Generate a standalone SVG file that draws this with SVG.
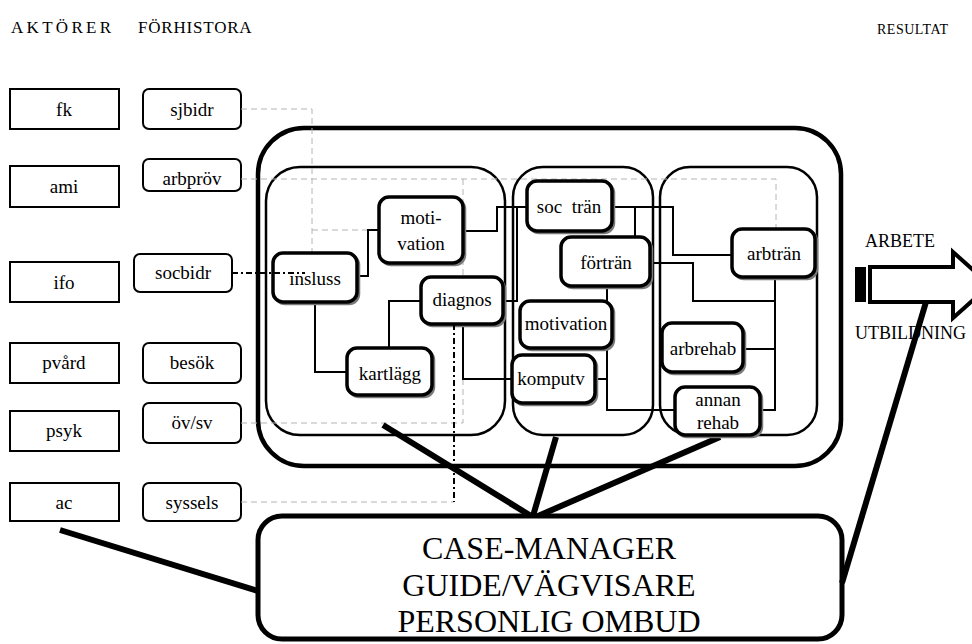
<svg xmlns="http://www.w3.org/2000/svg" width="972" height="644" viewBox="0 0 972 644">
  <style>
    text { font-family: "Liberation Serif", "Times New Roman", serif; fill: #000; }
    .hdr { font-size: 17px; }
    .lbl { font-size: 19px; text-anchor: middle; }
    .big { font-size: 32px; text-anchor: middle; }
    .actor { fill: #fff; stroke: #000; stroke-width: 2; }
    .hist { fill: #fff; stroke: #000; stroke-width: 2; }
    .frame { fill: none; stroke: #000; stroke-width: 2.5; }
    .outer { fill: none; stroke: #000; stroke-width: 4.5; }
    .shadow { fill: #fff; stroke: #7a7a7a; stroke-width: 2.5; }
    .box { fill: #fff; stroke: #000; stroke-width: 3.5; }
    .link { fill: none; stroke: #000; stroke-width: 2; }
    .dash { fill: none; stroke: #b4b4b4; stroke-width: 1; stroke-dasharray: 6 4; }
    .dashdot { fill: none; stroke: #000; stroke-width: 2; stroke-dasharray: 6 3 2 3; }
    .thick { fill: none; stroke: #000; stroke-width: 6; stroke-linecap: butt; }
  </style>

  <!-- column headers -->
  <text class="hdr" x="11" y="33" letter-spacing="3.3">AKTÖRER</text>
  <text class="hdr" x="138" y="33" letter-spacing="0.8">FÖRHISTORA</text>
  <text x="877" y="34" font-size="14" letter-spacing="0.5">RESULTAT</text>

  <!-- actors -->
  <g id="actor-fk"><rect class="actor" x="10" y="89" width="109" height="40"/><text class="lbl" x="64" y="116">fk</text></g>
  <g id="actor-ami"><rect class="actor" x="10" y="166" width="109" height="41"/><text class="lbl" x="64" y="193">ami</text></g>
  <g id="actor-ifo"><rect class="actor" x="10" y="262" width="109" height="40"/><text class="lbl" x="64" y="289">ifo</text></g>
  <g id="actor-pvard"><rect class="actor" x="10" y="343" width="109" height="40"/><text class="lbl" x="64" y="369">pvård</text></g>
  <g id="actor-psyk"><rect class="actor" x="10" y="411" width="109" height="40"/><text class="lbl" x="64" y="437">psyk</text></g>
  <g id="actor-ac"><rect class="actor" x="10" y="483" width="109" height="38"/><text class="lbl" x="64" y="509">ac</text></g>

  <!-- history -->
  <g id="hist-sjbidr"><rect class="hist" x="143" y="89" width="98" height="40" rx="6"/><text class="lbl" x="192" y="116">sjbidr</text></g>
  <g id="hist-arbprov"><rect class="hist" x="143" y="159" width="98" height="32" rx="6"/><text class="lbl" x="192" y="185">arbpröv</text></g>
  <g id="hist-socbidr"><rect class="hist" x="134" y="254" width="98" height="38" rx="6"/><text class="lbl" x="183" y="279">socbidr</text></g>
  <g id="hist-besok"><rect class="hist" x="143" y="343" width="98" height="40" rx="6"/><text class="lbl" x="192" y="369">besök</text></g>
  <g id="hist-ovsv"><rect class="hist" x="143" y="403" width="98" height="40" rx="6"/><text class="lbl" x="192" y="429">öv/sv</text></g>
  <g id="hist-syssels"><rect class="hist" x="143" y="483" width="98" height="38" rx="6"/><text class="lbl" x="192" y="509">syssels</text></g>

  <!-- enclosing frames -->
  <g id="program">
    <rect class="outer" x="258" y="128" width="583" height="338" rx="46"/>
    <rect class="frame" x="266" y="167" width="239" height="268" rx="34"/>
    <rect class="frame" x="513" y="167" width="140" height="268" rx="30"/>
    <rect class="frame" x="660" y="167" width="157" height="268" rx="30"/>
  </g>

  <!-- connectors -->
  <g id="connectors">
    <!-- history lines -->
    <path class="dash" d="M241 109 H312 V278 M312 230 H368"/>
    <path class="dash" d="M241 179 H776 V229 M463 179 V423 H241"/>
    <path class="dash" d="M241 502 H454"/>

    <!-- phase 1 -->
    <path class="link" d="M357 276 H368 V230 H379"/>
    <path class="link" d="M315 302 V372 H347"/>
    <path class="link" d="M389 348 V301 H421"/>
    <path class="link" d="M463 324 V379 H512"/>
    <path class="link" d="M463 231 H497 V207 H527"/>
    <path class="link" d="M503 301 H517 V207"/>

    <!-- phase 2 / 3 -->
    <path class="link" d="M612 207 H673 V255 H732"/>
    <path class="link" d="M635 207 V237"/>
    <path class="link" d="M650 263 H693 V301 H775"/>
    <path class="link" d="M775 277 V410 H760"/>
    <path class="link" d="M743 349 H775"/>
    <path class="link" d="M607 286 V410 H675"/>
    <path class="link" d="M595 379 H607"/>

    <!-- case manager links -->
    <path class="thick" d="M383 425 L531 516"/>
    <path class="thick" d="M556 437 L533 516"/>
    <path class="thick" d="M720 437 L538 516"/>
    <path class="thick" d="M60 530 L258 591"/>
  </g>

  <!-- phase nodes -->
  <g id="insluss"><rect class="shadow" x="275" y="255" width="84" height="49" rx="10"/><rect class="box" x="273" y="253" width="84" height="49" rx="10"/><text class="lbl" x="315" y="285">insluss</text></g>
  <g id="motivation-1"><rect class="shadow" x="381" y="199" width="84" height="66" rx="10"/><rect class="box" x="379" y="197" width="84" height="66" rx="10"/><text class="lbl" x="421" y="224">moti-</text><text class="lbl" x="421" y="250">vation</text></g>
  <g id="diagnos"><rect class="shadow" x="423" y="279" width="82" height="47" rx="10"/><rect class="box" x="421" y="277" width="82" height="47" rx="10"/><text class="lbl" x="462" y="306">diagnos</text></g>
  <g id="kartlagg"><rect class="shadow" x="349" y="350" width="85" height="47" rx="10"/><rect class="box" x="347" y="348" width="85" height="47" rx="10"/><text class="lbl" x="390" y="380">kartlägg</text></g>
  <g id="soc-tran"><rect class="shadow" x="529" y="183" width="85" height="50" rx="10"/><rect class="box" x="527" y="181" width="85" height="50" rx="10"/><text class="lbl" x="569" y="213" xml:space="preserve">soc  trän</text></g>
  <g id="fortran"><rect class="shadow" x="563" y="239" width="89" height="49" rx="10"/><rect class="box" x="561" y="237" width="89" height="49" rx="10"/><text class="lbl" x="606" y="269">förträn</text></g>
  <g id="motivation-2"><rect class="shadow" x="522" y="303" width="92" height="47" rx="10"/><rect class="box" x="520" y="301" width="92" height="47" rx="10"/><text class="lbl" x="566" y="330">motivation</text></g>
  <g id="komputv"><rect class="shadow" x="514" y="357" width="83" height="48" rx="10"/><rect class="box" x="512" y="355" width="83" height="48" rx="10"/><text class="lbl" x="551" y="385">komputv</text></g>
  <g id="arbtran"><rect class="shadow" x="734" y="231" width="83" height="48" rx="10"/><rect class="box" x="732" y="229" width="83" height="48" rx="10"/><text class="lbl" x="774" y="260">arbträn</text></g>
  <g id="arbrehab"><rect class="shadow" x="664" y="325" width="81" height="49" rx="10"/><rect class="box" x="662" y="323" width="81" height="49" rx="10"/><text class="lbl" x="703" y="355">arbrehab</text></g>
  <g id="annan-rehab"><rect class="shadow" x="677" y="389" width="85" height="48" rx="10"/><rect class="box" x="675" y="387" width="85" height="48" rx="10"/><text class="lbl" x="718" y="406">annan</text><text class="lbl" x="718" y="429">rehab</text></g>

  <!-- lines drawn over the intake node -->
  <path class="dashdot" d="M232 273 H305"/>
  <path class="dashdot" d="M454 324 V502"/>

  <!-- case manager -->
  <g id="case-manager">
    <rect x="258" y="516" width="584" height="123" rx="24" fill="#fff" stroke="#000" stroke-width="5"/>
    <text class="big" x="549" y="559">CASE-MANAGER</text>
    <text class="big" x="549" y="596">GUIDE/VÄGVISARE</text>
    <text class="big" x="549" y="632">PERSONLIG OMBUD</text>
  </g>

  <!-- result arrow -->
  <g id="result">
    <text x="865" y="247" font-size="18">ARBETE</text>
    <rect x="855" y="267" width="11" height="35" fill="#000"/>
    <polygon points="870,267 953,267 953,252 990,285 953,318 953,302 870,302" fill="#fff" stroke="#000" stroke-width="4"/>
    <text x="855" y="339" font-size="18">UTBILDNING</text>
    <path class="thick" d="M842 583 L926 302"/>
  </g>
</svg>
